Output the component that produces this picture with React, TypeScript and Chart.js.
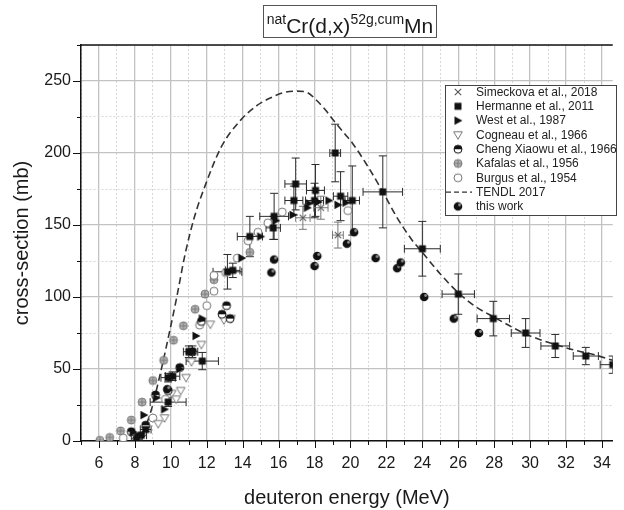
import React, { useEffect, useRef } from 'react';
import { Chart, registerables } from 'chart.js';

Chart.register(...registerables);

const FONT = '"Liberation Sans", Arial, sans-serif';

// ---- axis settings ----
const X_MIN = 5;
const X_MAX = 34.6;
const Y_MIN = 0;
const Y_MAX = 275;
const X_LABEL_STEP = 2;
const Y_LABEL_STEP = 50;

// ---- data (deuteron energy in MeV, cross-section in mb) ----
const simeckovaE = [17.35, 18.35, 19.3];
const simeckovaXS = [155, 162, 143];
const simeckovaDE = [0.4, 0.4, 0.3];
const simeckovaDXS = [8, 8, 9];

const hermanneE = [8.1, 8.35, 8.6, 9.85, 10.1, 9.85, 11.0, 11.2, 11.75, 13.15, 13.45, 14.4, 15.7, 15.75, 16.85, 16.95, 18.0, 18.05, 19.15, 19.45, 20.1, 21.8, 24.0, 26.0, 27.95, 29.75, 31.4, 33.1, 34.6];
const hermanneXS = [1.5, 4, 8, 44, 45, 27, 62, 62, 55.5, 117.5, 118.5, 142, 148, 156, 167, 178.5, 167, 174, 200, 170, 167, 173, 133.5, 102, 85, 75, 66, 59, 53];
const hermanneDE = [0.3, 0.3, 0.3, 0.4, 0.4, 1.0, 0.3, 0.3, 0.9, 0.8, 0.4, 0.7, 0.4, 0.8, 0.5, 0.6, 0.5, 0.5, 0.3, 0.4, 0.4, 1.1, 1.0, 0.9, 0.9, 0.8, 0.8, 0.7, 0.7];
const hermanneDXS = [1, 1, 1.5, 3, 3, 3, 4, 4, 6, 12, 5, 14, 8, 16, 10, 18, 12, 18, 20, 17, 24, 25, 19, 14, 12, 10, 8, 6, 6];

const westE = [7.9, 8.5, 9.2, 9.65, 10.5, 11.4, 11.75, 13.95, 15.0, 15.85, 16.8, 17.6, 17.7, 18.2, 18.8, 19.3, 19.75];
const westXS = [6, 18, 30, 22, 50, 73, 85, 127, 142, 153, 157, 162, 165, 166, 167, 164, 165.5];

const cogneauE = [9.3, 9.65, 10.05, 10.3, 10.55, 10.85, 11.15, 11.7, 12.2, 12.95, 13.35];
const cogneauXS = [12, 16, 33, 29, 35, 44, 55, 67, 81, 84, 85];

const chengE = [7.8, 8.2, 8.6, 9.15, 9.85, 10.5, 11.2, 11.7, 12.85, 13.3, 13.1];
const chengXS = [6.5, 3, 11, 32, 35, 51, 62, 83, 88, 85, 94];

const kafalasE = [6.05, 6.6, 7.2, 7.8, 8.4, 9.0, 9.6, 10.15, 10.7, 11.35, 11.9, 12.4, 14.4];
const kafalasXS = [0.5, 2.5, 7, 14.5, 27, 42, 56, 70, 80, 91.5, 102, 112, 131];

const burgusE = [7.35, 9.0, 9.7, 11.6, 12.0, 12.4, 12.4, 13.05, 13.7, 14.3, 14.85, 15.4, 16.2, 19.85];
const burgusXS = [2, 16, 29, 80.5, 94, 104, 115, 117, 127, 139, 145, 151.5, 159, 160];

const tendlE = [8.0, 8.4, 8.9, 9.4, 9.6, 10.0, 10.3, 10.8, 11.3, 11.9, 12.8, 13.9, 14.8, 15.5, 16.3, 17.0, 17.6, 18.0, 18.6, 19.1, 19.7, 20.1, 21.0, 21.8, 22.6, 23.4, 24.0, 25.0, 26.0, 27.0, 28.0, 29.0, 30.0, 31.4, 32.5, 33.7, 34.6];
const tendlXS = [0, 5, 21, 46, 57, 80, 98, 130, 155, 177, 204, 223, 233, 238, 242, 243, 242, 238, 230, 222, 213, 207, 190, 173, 155, 140, 131, 116, 103, 93, 86, 79, 73, 67, 63, 59.5, 56];

const thisWorkE = [9.8, 15.6, 15.75, 18.0, 18.15, 19.8, 20.2, 21.4, 22.6, 22.8, 24.1, 25.75, 27.15];
const thisWorkXS = [36, 117, 126, 121.5, 128.5, 137, 145, 127, 120, 124, 100, 85, 75];

const LEGEND_ORDER = [
  'Simeckova et al., 2018',
  'Hermanne et al., 2011',
  'West et al., 1987',
  'Cogneau et al., 1966',
  'Cheng Xiaowu et al., 1966',
  'Kafalas et al., 1956',
  'Burgus et al., 1954',
  'TENDL 2017',
  'this work',
];

const pts = (xs: number[], ys: number[]) => xs.map((x, i) => ({ x, y: ys[i] }));

function makeSymbol(kind: string): HTMLCanvasElement {
  const s = 12;
  const c = document.createElement('canvas');
  c.width = s;
  c.height = s;
  const g = c.getContext('2d')!;
  const m = s / 2;
  switch (kind) {
    case 'cross':
      g.strokeStyle = '#555';
      g.lineWidth = 1.1;
      g.beginPath();
      g.moveTo(m - 3.2, m - 3.2); g.lineTo(m + 3.2, m + 3.2);
      g.moveTo(m + 3.2, m - 3.2); g.lineTo(m - 3.2, m + 3.2);
      g.stroke();
      break;
    case 'square':
      g.fillStyle = '#111';
      g.fillRect(m - 3.5, m - 3.5, 7, 7);
      break;
    case 'triRight':
      g.fillStyle = '#111';
      g.beginPath();
      g.moveTo(m - 3.5, m - 4.2); g.lineTo(m + 4.5, m); g.lineTo(m - 3.5, m + 4.2);
      g.closePath();
      g.fill();
      break;
    case 'triDown':
      g.fillStyle = '#fff';
      g.strokeStyle = '#777';
      g.lineWidth = 1;
      g.beginPath();
      g.moveTo(m - 4.3, m - 3.2); g.lineTo(m + 4.3, m - 3.2); g.lineTo(m, m + 4.3);
      g.closePath();
      g.fill();
      g.stroke();
      break;
    case 'halfCircle':
      g.fillStyle = '#fff';
      g.beginPath(); g.arc(m, m, 4, 0, Math.PI * 2); g.fill();
      g.fillStyle = '#111';
      g.beginPath(); g.arc(m, m, 4, Math.PI, 0); g.closePath(); g.fill();
      g.strokeStyle = '#111';
      g.lineWidth = 1;
      g.beginPath(); g.arc(m, m, 4, 0, Math.PI * 2); g.stroke();
      break;
    case 'crossCircle':
      g.fillStyle = '#b4b4b4';
      g.strokeStyle = '#7a7a7a';
      g.lineWidth = 1;
      g.beginPath(); g.arc(m, m, 4, 0, Math.PI * 2); g.fill(); g.stroke();
      g.beginPath();
      g.moveTo(m - 4, m); g.lineTo(m + 4, m);
      g.moveTo(m, m - 4); g.lineTo(m, m + 4);
      g.stroke();
      break;
    case 'openCircle':
      g.fillStyle = '#fff';
      g.strokeStyle = '#777';
      g.lineWidth = 1;
      g.beginPath(); g.arc(m, m, 4, 0, Math.PI * 2); g.fill(); g.stroke();
      break;
    case 'ball':
    default:
      g.fillStyle = '#111';
      g.beginPath(); g.arc(m, m, 4.3, 0, Math.PI * 2); g.fill();
      g.fillStyle = 'rgba(255,255,255,0.55)';
      g.beginPath(); g.arc(m + 1.5, m - 1.5, 1.4, 0, Math.PI * 2); g.fill();
      break;
  }
  return c;
}

const errorBarPlugin = {
  id: 'errorBars',
  beforeDatasetsDraw(chart: any) {
    const { ctx, chartArea, scales } = chart;
    const xs = scales.x;
    const ys = scales.y;
    ctx.save();
    ctx.beginPath();
    ctx.rect(chartArea.left, chartArea.top, chartArea.right - chartArea.left, chartArea.bottom - chartArea.top);
    ctx.clip();
    chart.data.datasets.forEach((ds: any) => {
      if (!ds.errX) return;
      ctx.strokeStyle = ds.errColor || '#333';
      ctx.lineWidth = 1;
      ds.data.forEach((p: any, i: number) => {
        const px = xs.getPixelForValue(p.x);
        const py = ys.getPixelForValue(p.y);
        const x0 = xs.getPixelForValue(p.x - ds.errX[i]);
        const x1 = xs.getPixelForValue(p.x + ds.errX[i]);
        const y0 = ys.getPixelForValue(p.y - ds.errY[i]);
        const y1 = ys.getPixelForValue(p.y + ds.errY[i]);
        const cap = 4;
        ctx.beginPath();
        ctx.moveTo(x0, py); ctx.lineTo(x1, py);
        ctx.moveTo(x0, py - cap); ctx.lineTo(x0, py + cap);
        ctx.moveTo(x1, py - cap); ctx.lineTo(x1, py + cap);
        ctx.moveTo(px, y0); ctx.lineTo(px, y1);
        ctx.moveTo(px - cap, y0); ctx.lineTo(px + cap, y0);
        ctx.moveTo(px - cap, y1); ctx.lineTo(px + cap, y1);
        ctx.stroke();
      });
    });
    ctx.restore();
  },
};

const frameTicksPlugin = {
  id: 'frameTicks',
  afterDraw(chart: any) {
    const { ctx, chartArea, scales } = chart;
    const { left, right, top, bottom } = chartArea;
    ctx.save();
    ctx.strokeStyle = '#111';
    ctx.lineWidth = 1;
    scales.x.ticks.forEach((t: any) => {
      if (!Number.isInteger(t.value)) return;
      const px = Math.round(scales.x.getPixelForValue(t.value)) + 0.5;
      const len = t.value % X_LABEL_STEP === 0 ? 7 : 4;
      ctx.beginPath(); ctx.moveTo(px, bottom); ctx.lineTo(px, bottom + len); ctx.stroke();
    });
    scales.y.ticks.forEach((t: any) => {
      const py = Math.round(scales.y.getPixelForValue(t.value)) + 0.5;
      const len = t.value % Y_LABEL_STEP === 0 ? 8 : 4;
      ctx.beginPath(); ctx.moveTo(left - len, py); ctx.lineTo(left, py); ctx.stroke();
    });
    ctx.lineWidth = 1.5;
    ctx.beginPath(); ctx.moveTo(left - 0.75, top); ctx.lineTo(right, top); ctx.stroke();
    ctx.restore();
  },
};

const legendPlugin = {
  id: 'boxLegend',
  afterDraw(chart: any) {
    const { ctx } = chart;
    const bx = 445, by = 85, bw = 171, bh = 130;
    ctx.save();
    ctx.fillStyle = '#fff';
    ctx.fillRect(bx, by, bw, bh);
    ctx.strokeStyle = '#444';
    ctx.lineWidth = 1;
    ctx.strokeRect(bx + 0.5, by + 0.5, bw, bh);
    ctx.font = '12px ' + FONT;
    ctx.textBaseline = 'middle';
    ctx.fillStyle = '#222';
    LEGEND_ORDER.forEach((label, i) => {
      const ds: any = chart.data.datasets.find((d: any) => d.label === label);
      if (!ds) return;
      const cy = by + 7 + i * 14.3;
      if (ds.showLine) {
        ctx.strokeStyle = ds.borderColor;
        ctx.lineWidth = 1.4;
        ctx.setLineDash([5, 3]);
        ctx.beginPath(); ctx.moveTo(bx + 1, cy); ctx.lineTo(bx + 27, cy); ctx.stroke();
        ctx.setLineDash([]);
      } else {
        const img = ds.pointStyle as HTMLCanvasElement;
        ctx.drawImage(img, bx + 13 - img.width / 2, cy - img.height / 2);
      }
      ctx.fillStyle = '#222';
      ctx.fillText(label, bx + 31, cy + 0.5);
    });
    ctx.restore();
  },
};

export default function App() {
  const ref = useRef<HTMLCanvasElement>(null);

  useEffect(() => {
    if (!ref.current) return;
    const sym = {
      cross: makeSymbol('cross'),
      square: makeSymbol('square'),
      triRight: makeSymbol('triRight'),
      triDown: makeSymbol('triDown'),
      half: makeSymbol('halfCircle'),
      crossCircle: makeSymbol('crossCircle'),
      open: makeSymbol('openCircle'),
      ball: makeSymbol('ball'),
    };
    const scatter = (label: string, data: any[], style: HTMLCanvasElement, extra: any = {}) => ({
      label,
      data,
      pointStyle: style,
      pointRadius: 5,
      pointHoverRadius: 5,
      showLine: false,
      ...extra,
    });

    const datasets: any[] = [
      scatter('Hermanne et al., 2011', pts(hermanneE, hermanneXS), sym.square, {
        errX: hermanneDE, errY: hermanneDXS, errColor: '#2a2a2a',
      }),
      scatter('this work', pts(thisWorkE, thisWorkXS), sym.ball),
      scatter('West et al., 1987', pts(westE, westXS), sym.triRight),
      scatter('Cheng Xiaowu et al., 1966', pts(chengE, chengXS), sym.half),
      scatter('Simeckova et al., 2018', pts(simeckovaE, simeckovaXS), sym.cross, {
        errX: simeckovaDE, errY: simeckovaDXS, errColor: '#777',
      }),
      scatter('Cogneau et al., 1966', pts(cogneauE, cogneauXS), sym.triDown),
      scatter('Burgus et al., 1954', pts(burgusE, burgusXS), sym.open),
      scatter('Kafalas et al., 1956', pts(kafalasE, kafalasXS), sym.crossCircle),
      {
        label: 'TENDL 2017',
        data: pts(tendlE, tendlXS),
        showLine: true,
        borderColor: '#333',
        borderWidth: 1.6,
        borderDash: [7, 4],
        pointRadius: 0,
        cubicInterpolationMode: 'monotone',
        fill: false,
      },
    ];

    const chart = new Chart(ref.current, {
      type: 'scatter',
      data: { datasets },
      options: {
        animation: false,
        responsive: false,
        maintainAspectRatio: false,
        devicePixelRatio: 1,
        layout: { padding: { top: 45, left: 0, right: 0, bottom: 0 } },
        plugins: {
          legend: { display: false },
          tooltip: { enabled: false },
          title: { display: false },
        },
        scales: {
          x: {
            type: 'linear',
            min: X_MIN,
            max: X_MAX,
            afterFit: (s: any) => { s.height = 69; },
            ticks: {
              stepSize: 1,
              includeBounds: false,
              autoSkip: false,
              maxRotation: 0,
              padding: 13,
              color: '#1a1a1a',
              font: { family: FONT, size: 16 },
              callback: (v: any) => (Number.isInteger(v) && v % X_LABEL_STEP === 0 ? String(v) : ''),
            },
            grid: {
              drawTicks: false,
              color: (c: any) => {
                const v = c.tick ? c.tick.value : NaN;
                if (!Number.isInteger(v)) return 'rgba(0,0,0,0)';
                return v % X_LABEL_STEP === 0 ? '#c2c2c2' : '#d6d6d6';
              },
              lineWidth: (c: any) => (c.tick && c.tick.value % X_LABEL_STEP === 0 ? 1.3 : 1),
            },
            border: {
              display: true,
              color: '#111',
              width: 1.5,
              dash: (c: any) => (c.tick && c.tick.value % X_LABEL_STEP !== 0 ? [2, 2] : []),
            },
            title: {
              display: true,
              text: 'deuteron energy (MeV)',
              color: '#1a1a1a',
              font: { family: FONT, size: 20 },
              padding: { top: 0, bottom: 0 },
            },
          },
          y: {
            type: 'linear',
            min: Y_MIN,
            max: Y_MAX,
            afterFit: (s: any) => { s.width = 81; },
            ticks: {
              stepSize: 25,
              includeBounds: false,
              autoSkip: false,
              padding: 10,
              color: '#1a1a1a',
              font: { family: FONT, size: 16 },
              callback: (v: any) => (v % Y_LABEL_STEP === 0 ? String(v) : ''),
            },
            grid: {
              drawTicks: false,
              color: (c: any) => {
                const v = c.tick ? c.tick.value : NaN;
                if (isNaN(v)) return 'rgba(0,0,0,0)';
                return v % Y_LABEL_STEP === 0 ? '#c2c2c2' : '#d6d6d6';
              },
              lineWidth: (c: any) => (c.tick && c.tick.value % Y_LABEL_STEP === 0 ? 1.3 : 1),
            },
            border: {
              display: true,
              color: '#111',
              width: 1.5,
              dash: (c: any) => (c.tick && c.tick.value % Y_LABEL_STEP !== 0 ? [2, 2] : []),
            },
            title: {
              display: true,
              text: 'cross-section (mb)',
              color: '#1a1a1a',
              font: { family: FONT, size: 20 },
              padding: { top: 10, bottom: 0 },
            },
          },
        },
      },
      plugins: [errorBarPlugin, frameTicksPlugin, legendPlugin],
    } as any);

    return () => chart.destroy();
  }, []);

  const supStyle: React.CSSProperties = {
    fontSize: 14,
    position: 'relative',
    top: -9,
    verticalAlign: 'baseline',
    lineHeight: '14px',
  };

  return (
    <div style={{ position: 'absolute', left: 0, top: 0, width: 624, height: 510, background: '#fff', overflow: 'hidden' }}>
      <canvas ref={ref} width={624} height={510} style={{ width: 624, height: 510, display: 'block' }} />
      <div
        style={{
          position: 'absolute',
          left: 263,
          top: 5,
          width: 174,
          height: 33,
          boxSizing: 'border-box',
          border: '1px solid #555',
          fontFamily: FONT,
          color: '#1a1a1a',
          textAlign: 'center',
          whiteSpace: 'nowrap',
          paddingTop: 9,
          fontSize: 21,
          lineHeight: '21px',
        }}
      >
        <sup style={supStyle}>nat</sup>Cr(d,x)<sup style={supStyle}>52g,cum</sup>Mn
      </div>
    </div>
  );
}
